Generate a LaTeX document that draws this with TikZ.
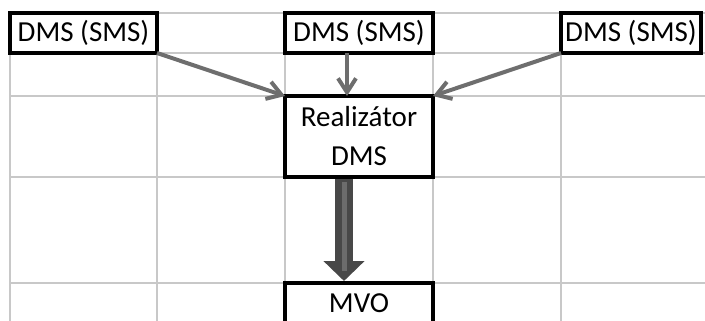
\documentclass[tikz,border=0pt]{standalone}
\usepackage{fontspec}
\setmainfont{Carlito}
\usetikzlibrary{arrows.meta}
\definecolor{gridgray}{HTML}{C8C8C8}
\definecolor{linkgray}{HTML}{6E6E6E}
\definecolor{flowdark}{HTML}{484848}
\definecolor{flowlight}{HTML}{6C6C6C}

\begin{document}
\begin{tikzpicture}[x=1pt, y=-1pt,
  gridline/.style={draw=gridgray, line width=2.5pt},
  cellbox/.style={draw=black, line width=4pt, fill=white, inner sep=0pt, outer sep=0pt,
    minimum height=40pt, font=\fontsize{29pt}{39pt}\selectfont},
  linkarr/.style={-{Straight Barb[length=14pt, width=18pt]}, line width=4pt, draw=linkgray},
  flowarr/.style={-{Triangle[length=20pt, width=40pt]}, line width=18pt, draw=flowdark},
  flowcore/.style={line width=5pt, draw=flowlight},
]
\useasboundingbox (0,0) rectangle (705,321);
\clip (0,0) rectangle (705,321);

% sheet grid behind the boxes
\foreach \gx in {10,157,285,433,561}
  \draw[gridline] (\gx,13) -- (\gx,330);
\foreach \gy in {13,53,96,177,283}
  \draw[gridline] (10,\gy) -- (710,\gy);

% top row: three sources
\node[cellbox, minimum width=147pt] (srcL) at (83.5,33) {DMS (SMS)};
\node[cellbox, minimum width=148pt] (srcM) at (359,33) {DMS (SMS)};
\node[cellbox, minimum width=140pt] (srcR) at (631,33) {DMS (SMS)};

% realizer and target
\node[cellbox, minimum width=148pt, minimum height=81pt, align=center] (real) at (359,136.5) {Realizátor\\DMS};
\node[cellbox, minimum width=148pt] (mvo) at (359,303) {MVO};

% inputs into the realizer
\draw[linkarr] (srcL.south east) -- (real.north west);
\draw[linkarr] ([xshift=-12pt]srcM.south) -- ([xshift=-12pt]real.north);
\draw[linkarr] (srcR.south west) -- (real.north east);

% fat output arrow
\draw[flowarr] ([xshift=-15pt,yshift=-2pt]real.south) -- ([xshift=-15pt,yshift=2pt]mvo.north);
\draw[flowcore] ([xshift=-15pt,yshift=-5pt]real.south) -- ([xshift=-15pt,yshift=12pt]mvo.north);
\end{tikzpicture}
\end{document}
